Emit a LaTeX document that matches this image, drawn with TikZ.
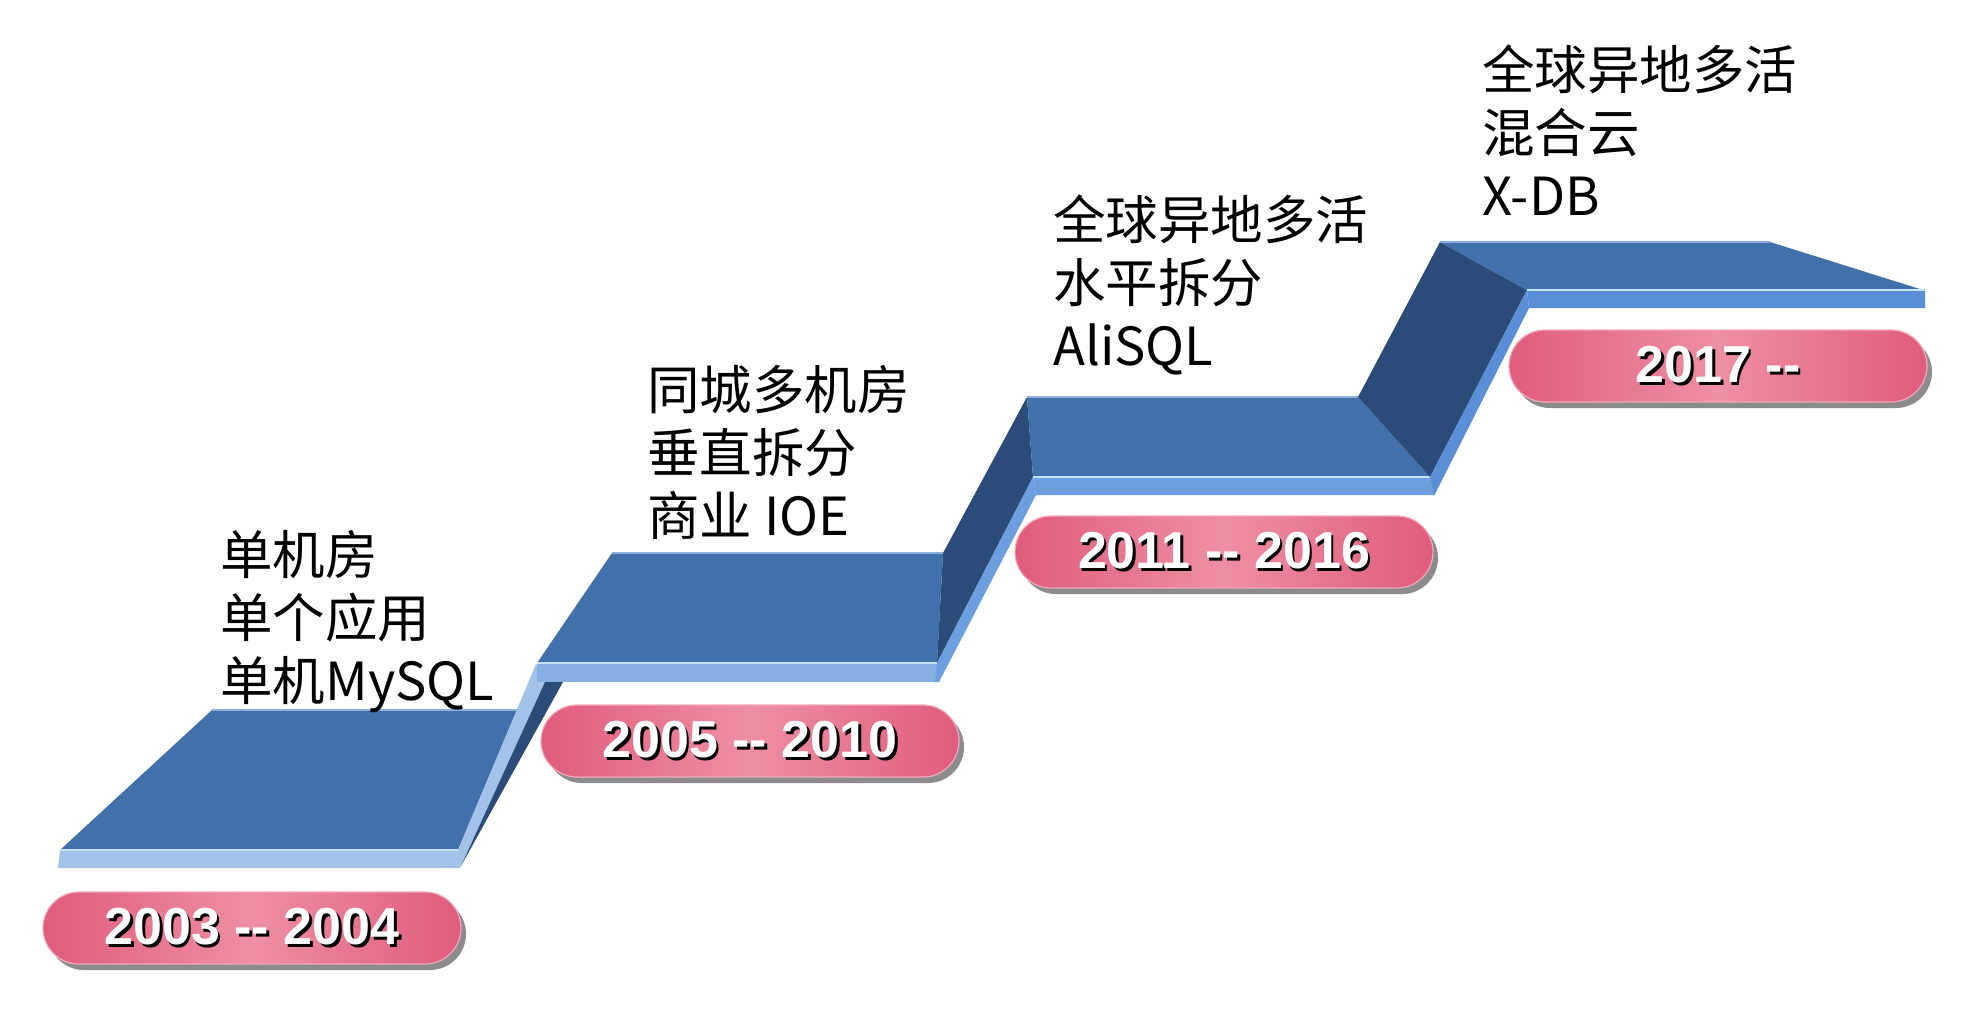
\documentclass[tikz,border=0pt]{standalone}
\usepackage{fontspec}
\newfontfamily\cjkfont{Noto Sans CJK SC}
\newfontfamily\yrfont{Liberation Sans}
\usetikzlibrary{shadows}
\definecolor{faceblue}{HTML}{4170AB}
\definecolor{riserblue}{HTML}{2B4C78}
\definecolor{edgeA}{HTML}{A3C2E9}
\definecolor{edgeB}{HTML}{88AFE4}
\definecolor{edgeC}{HTML}{6D9EE0}
\definecolor{edgeD}{HTML}{5A8FD8}
\definecolor{hilite}{HTML}{C6E2FB}
\definecolor{topline}{HTML}{8DB0DE}
\definecolor{pinkedge}{HTML}{E05C7C}
\definecolor{pinkmid}{HTML}{EE8FA3}
\definecolor{pinkrim}{HTML}{F3A9B9}
\newcommand\yrtext[1]{\makebox[0pt][l]{\kern1.3pt\raisebox{-1.3pt}{\textcolor{black}{#1}}}\textcolor{white}{#1}}
\begin{document}
\begin{tikzpicture}[x=0.5pt,y=-0.5pt,
  face/.style={fill=faceblue},
  riser/.style={fill=riserblue},
  hl/.style={draw=hilite,line width=0.8pt},
  tl/.style={draw=topline,line width=0.8pt},
  pill/.style={rounded corners=18pt,minimum width=209pt,minimum height=36pt,inner sep=0pt,
    left color=pinkedge,right color=pinkedge,middle color=pinkmid,
    draw=pinkrim,line width=0.6pt,
    drop shadow={shadow xshift=2.5pt,shadow yshift=-3pt,fill=black!45,opacity=1},
    font=\yrfont\bfseries\fontsize{26pt}{30pt}\selectfont},
  desc/.style={anchor=base west,align=left,inner sep=0pt,
    font=\cjkfont\fontsize{26.25pt}{31.5pt}\selectfont}]
\path[use as bounding box,fill=white] (0,0) rectangle (1984,1034);

% step 1
\path[face] (212,710) -- (517,710) -- (458,850) -- (60,850) -- cycle;
\path[fill=edgeA] (60,850) -- (458,850) -- (456,868) -- (58,868) -- cycle;
\draw[hl] (60,850) -- (458,850);
\draw[tl] (212,710) -- (517,710);
% riser 1-2
\path[fill=edgeA] (536,664) -- (545,682) -- (460,868) -- (456,868) -- (458,850) -- cycle;
\path[riser] (545,682) -- (563,682) -- (461,866) -- cycle;
% step 2
\path[face] (612,553) -- (943,553) -- (937,663) -- (537,663) -- cycle;
\path[fill=edgeB] (537,663) -- (937,663) -- (937,682) -- (537,682) -- cycle;
\draw[hl] (537,663) -- (937,663);
\draw[tl] (612,553) -- (943,553);
% riser 2-3
\path[riser] (943,553) -- (1027,397) -- (1033,477) -- (937,663) -- cycle;
\path[fill=edgeC] (1033,477) -- (1036,495) -- (939,682) -- (935,682) -- (937,663) -- cycle;
% step 3
\path[face] (1027,397) -- (1358,397) -- (1430,477) -- (1033,477) -- cycle;
\path[fill=edgeC] (1033,477) -- (1430,477) -- (1434,495) -- (1036,495) -- cycle;
\draw[hl] (1033,477) -- (1430,477);
\draw[tl] (1027,397) -- (1358,397);
% riser 3-4
\path[riser] (1358,397) -- (1440,242) -- (1527,290) -- (1430,477) -- cycle;
\path[fill=edgeD] (1430,477) -- (1527,290) -- (1529,308) -- (1434,496) -- cycle;
% step 4
\path[face] (1440,242) -- (1770,242) -- (1923,290) -- (1527,290) -- cycle;
\path[fill=edgeD] (1527,290) -- (1925,290) -- (1925,308) -- (1529,308) -- cycle;
\draw[hl] (1527,290) -- (1925,290);
\draw[tl] (1440,242) -- (1770,242);

% year pills
\node[pill] (p1) at (252,928) {\yrtext{2003 -{}- 2004}};
\node[pill] (p2) at (750,741) {\yrtext{2005 -{}- 2010}};
\node[pill] (p3) at (1224,552) {\yrtext{2011 -{}- 2016}};
\node[pill] (p4) at (1718,366) {\yrtext{2017 -{}-}};

% descriptions (anchor = baseline of last line)
\node[desc] (d1) at (220,700) {单机房\\单个应用\\单机MySQL};
\node[desc] (d2) at (647,535) {同城多机房\\垂直拆分\\商业 IOE};
\node[desc] (d3) at (1053,365) {全球异地多活\\水平拆分\\AliSQL};
\node[desc] (d4) at (1482,215) {全球异地多活\\混合云\\X-DB};
\end{tikzpicture}
\end{document}
